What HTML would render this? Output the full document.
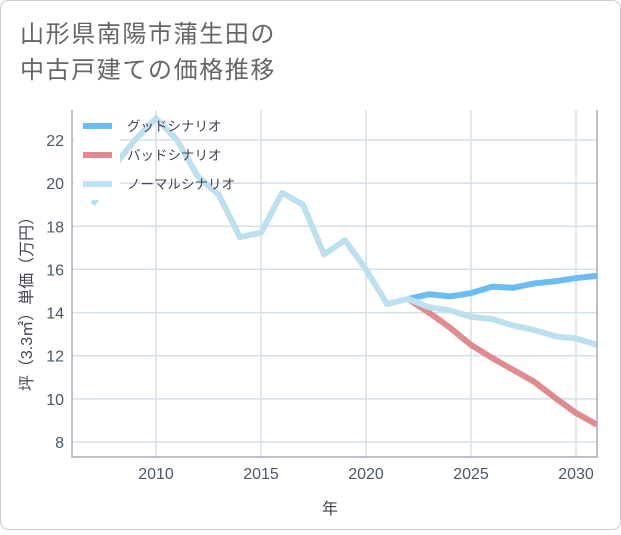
<!DOCTYPE html>
<html><head><meta charset="utf-8"><style>
body{margin:0;background:#fff;}
svg text{font-family:"Liberation Sans","Noto Sans CJK JP",sans-serif;}
</style></head><body>
<svg width="621" height="530" xmlns="http://www.w3.org/2000/svg">
<rect x="0.5" y="0.5" width="620" height="529" rx="8" fill="#fff" stroke="#ccc"/>
<text x="20" y="42" font-size="24" letter-spacing="1.6" fill="#666">山形県南陽市蒲生田の</text>
<text x="20" y="78" font-size="24" letter-spacing="1.6" fill="#666">中古戸建ての価格推移</text>
<g id="grid"></g>
<g id="legend"></g>
<g id="series"></g>
<g id="legendfg"></g>
<g id="axes"></g>
<text x="330" y="514" font-size="16" fill="#445" text-anchor="middle">年</text>
<text transform="translate(32,300) rotate(-90)" font-size="16" fill="#445" text-anchor="middle">坪（3.3㎡）単価（万円）</text>
</svg>
<script>
const years=[2007,2008,2009,2010,2011,2012,2013,2014,2015,2016,2017,2018,2019,2020,2021,2022,2023,2024,2025,2026,2027,2028,2029,2030,2031];
const normal=[19.0,20.8,22.0,23.0,22.0,20.3,19.45,17.5,17.7,19.55,19.0,16.7,17.35,16.0,14.4,14.63,14.25,14.1,13.8,13.7,13.4,13.2,12.9,12.8,12.5];
const goodYears=[2022,2023,2024,2025,2026,2027,2028,2029,2030,2031];
const good=[14.63,14.85,14.75,14.9,15.2,15.15,15.35,15.45,15.6,15.7];
const bad=[14.63,14.0,13.3,12.5,11.9,11.35,10.8,10.05,9.35,8.8];
const yTicks=[8,10,12,14,16,18,20,22];
const xTicks=[2010,2015,2020,2025,2030];
const legendLabels=["グッドシナリオ","バッドシナリオ","ノーマルシナリオ"];
const colors=["#6bbcf2","#e08b90","#bde0ef"];
const L=72,R=597,T=110,B=457;
const X=v=>156+(v-2010)*21;
const Y=v=>140+(22-v)*(302/14);
const NS="http://www.w3.org/2000/svg";
function mk(tag,attrs,parent){const e=document.createElementNS(NS,tag);for(const k in attrs)e.setAttribute(k,attrs[k]);parent.appendChild(e);return e;}
const grid=document.getElementById('grid'),axes=document.getElementById('axes'),series=document.getElementById('series'),legend=document.getElementById('legend'),legendfg=document.getElementById('legendfg');
yTicks.forEach(t=>{const l=mk('line',{x1:L,x2:R,y1:Y(t),y2:Y(t),stroke:'#d5dfe8','stroke-width':1.5},grid);


const tx=mk('text',{x:L-8,y:Y(t)+6,'font-size':16,fill:'#4a5868','text-anchor':'end'},axes);tx.textContent=t;

});
xTicks.forEach(t=>{const l=mk('line',{x1:X(t),x2:X(t),y1:T,y2:B,stroke:'#d5dfe8','stroke-width':1.5},grid);


const tx=mk('text',{x:X(t),y:B+22,'font-size':16,fill:'#4a5868','text-anchor':'middle'},axes);tx.textContent=t;

});
const frame=mk('path',{d:`M${L},${T}V${B}H${R}V${T}`,fill:'none',stroke:'#aab','stroke-width':1.5},axes);


function line(xs,vs,c,name){const p=mk('polyline',{points:xs.map((x,i)=>X(x)+','+Y(vs[i])).join(' '),fill:'none',stroke:c,'stroke-width':6,'stroke-linejoin':'round'},series);

}
line(goodYears,bad,colors[1],'bad-scenario-line');
line(goodYears,good,colors[0],'good-scenario-line');
line(years,normal,colors[2],'normal-scenario-line');
const bg=mk('rect',{x:74,y:112,width:46,height:88,fill:'#fff'},legendfg);


legendLabels.forEach((s,i)=>{const y=126+i*29;
const sw=mk('line',{x1:83,x2:112,y1:y,y2:y,stroke:colors[i],'stroke-width':6},legendfg);


const tx=mk('text',{x:127,y:y+5,'font-size':13.5,fill:'#445'},legendfg);tx.textContent=s;

});
</script>
</body></html>
